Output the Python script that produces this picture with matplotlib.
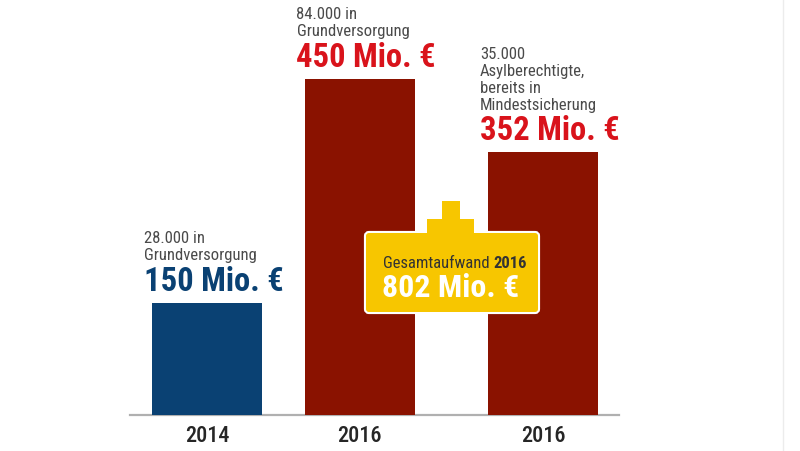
import matplotlib
matplotlib.use("Agg")
import matplotlib.pyplot as plt
from matplotlib.patches import Rectangle, FancyBboxPatch

# ---- data ----
years = ["2014", "2016", "2016"]
values = [150, 450, 352]            # Mio. €
people = ["28.000 in\nGrundversorgung",
          "84.000 in\nGrundversorgung",
          "35.000\nAsylberechtigte,\nbereits in\nMindestsicherung"]
bar_colors = ["#0a4173", "#8a1200", "#8a1200"]
value_colors = ["#0a4173", "#d9131b", "#d9131b"]
total_label = "Gesamtaufwand"
total_year = "2016"

NARROW = ["Roboto Condensed", "Liberation Sans Narrow", "Liberation Sans", "DejaVu Sans"]

W, H = 800, 452
fig = plt.figure(figsize=(W / 100, H / 100), dpi=100)
fig.patch.set_facecolor("white")

def px(x0, y0, x1, y1):
    return [x0 / W, 1 - y1 / H, (x1 - x0) / W, (y1 - y0) / H]

# main axes: baseline at y=416, x from 130 to 619
ax = fig.add_axes(px(130, 0, 619, 416))
ax.set_xlim(0, 489)
ax.set_ylim(0, 557)
ax.axis("off")
ax.axhline(0, color="#b0b0b0", lw=1.6, zorder=1, clip_on=False)

centers = [77, 229.5, 413]
bw = 110
bars = ax.bar(centers, values, width=bw, color=bar_colors, zorder=2)

PT = 0.72  # px -> points at 100 dpi
for i, (c, v) in enumerate(zip(centers, values)):
    left = c - bw / 2 - 8
    # value label
    ax.annotate(f"{v} Mio. €", xy=(left, v), xytext=(0, 22 * PT), textcoords="offset points",
                ha="left", va="center", fontsize=23.5, fontweight="bold",
                color=value_colors[i], family=NARROW, zorder=5)
    lines = people[i].split("\n")
    n = len(lines)
    for k, line in enumerate(lines):
        off = 48 + (n - 1 - k) * 17
        ax.annotate(line, xy=(left, v), xytext=(0, off * PT), textcoords="offset points",
                    ha="left", va="center", fontsize=12, color="#4a4a4a",
                    family=NARROW, zorder=5)
    ax.annotate(years[i], xy=(c, 0), xytext=(0, -20 * PT), textcoords="offset points",
                ha="center", va="center", fontsize=16, color="#262626", fontweight="medium",
                family=NARROW, annotation_clip=False)

# overlay for the total box
ov = fig.add_axes([0, 0, 1, 1])
ov.set_xlim(0, W)
ov.set_ylim(H, 0)
ov.axis("off")
yellow = "#f7c600"
shapes = [
    ("box", 366, 234, 538, 313),
    ("h", 427, 220, 474, 238),
    ("v", 442, 202, 460, 242),
]
for name, x0, y0, x1, y1 in shapes:
    if name == "box":
        p = FancyBboxPatch((x0, y0), x1 - x0, y1 - y0, boxstyle="round,pad=0,rounding_size=3",
                           facecolor="none", edgecolor="white", lw=3, zorder=6)
    else:
        p = Rectangle((x0, y0), x1 - x0, y1 - y0, facecolor="none", edgecolor="white", lw=3, zorder=6)
    ov.add_patch(p)
for name, x0, y0, x1, y1 in shapes:
    if name == "box":
        p = FancyBboxPatch((x0, y0), x1 - x0, y1 - y0, boxstyle="round,pad=0,rounding_size=3",
                           facecolor=yellow, edgecolor="none", zorder=7)
    else:
        p = Rectangle((x0, y0), x1 - x0, y1 - y0, facecolor=yellow, edgecolor="none", zorder=7)
    ov.add_patch(p)

total = sum(v for y, v in zip(years, values) if y == total_year)
t1 = ov.text(383, 264, total_label + " ", ha="left", va="center", fontsize=12,
             color="#333333", family=NARROW, zorder=8)
fig.canvas.draw()
bb = t1.get_window_extent()
x_end = bb.x1
ov.annotate(total_year, xy=(0, 0), xycoords="figure pixels", xytext=(x_end, H - 264),
            textcoords="figure pixels", ha="left", va="center", fontsize=12,
            fontweight="bold", color="#333333", family=NARROW, zorder=8)
ov.text(382, 288, f"{total} Mio. €", ha="left", va="center", fontsize=23,
        fontweight="bold", color="white", family=NARROW, zorder=8)

# faint right edge line
ov.plot([783, 783], [0, H], color="#ececec", lw=1, zorder=0)

fig.savefig("out.png", dpi=100, facecolor="white")
